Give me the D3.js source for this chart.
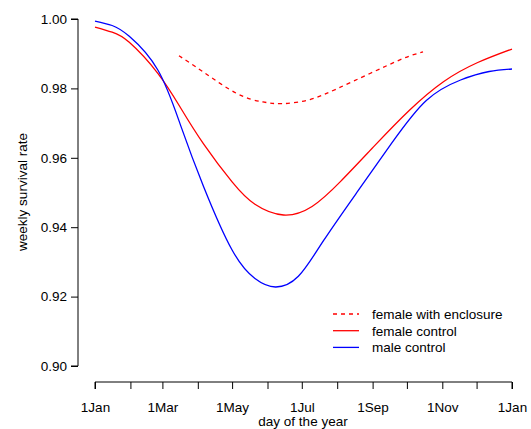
<!DOCTYPE html>
<html>
<head>
<meta charset="utf-8">
<script src="https://cdn.jsdelivr.net/npm/d3@7"></script>
<style>
  body { margin: 0; background: #fff; }
  text { font-family: "Liberation Sans", Arial, Helvetica, sans-serif; }
</style>
</head>
<body>
<script>
var w = 531;
var h = 429;

// day of year (0 = 1 Jan) and weekly survival
var maleDays = [0, 15, 30, 55, 75, 95, 120, 140, 158, 178, 200, 230, 260, 290, 320, 345, 365];
var maleRate = [0.99942, 0.99813, 0.99501, 0.98530, 0.96928, 0.95176, 0.93343, 0.92521, 0.92277, 0.92585, 0.93611, 0.95038, 0.96435, 0.97651, 0.98242, 0.98487, 0.98559];

var femaleDays = [0, 15, 30, 55, 75, 95, 120, 140, 165, 190, 215, 245, 275, 305, 335, 365];
var femaleRate = [0.99769, 0.99622, 0.99329, 0.98435, 0.97435, 0.96401, 0.95305, 0.94660, 0.94352, 0.94597, 0.95320, 0.96357, 0.97363, 0.98193, 0.98746, 0.99135];

var enclDays = [73.5, 94.5, 124.3, 147, 164.6, 188.2, 211.8, 240.7, 269.6, 287.1];
var enclRate = [0.9894, 0.9848, 0.9785, 0.9761, 0.9756, 0.9768, 0.9799, 0.9843, 0.9886, 0.9905];

var monthDays = [0, 31, 59, 90, 120, 151, 181, 212, 243, 273, 304, 334, 365];
var monthLabels = ["1Jan", "", "1Mar", "", "1May", "", "1Jul", "", "1Sep", "", "1Nov", "", "1Jan"];
var yTicks = [0.90, 0.92, 0.94, 0.96, 0.98, 1.00];

var legendNames = ["female with enclosure", "female control", "male control"];
var legendColors = ["#ff0000", "#ff0000", "#0000ff"];
var legendDash = ["4,4", null, null];

var x = d3.scaleLinear().domain([0, 365]).range([95, 512]);
var y = d3.scaleLinear().domain([0.90, 1.00]).range([366, 19]);

var svg = d3.select("body").append("svg").attr("width", w).attr("height", h);

// left axis
var yAxis = svg.append("g")
  .attr("transform", "translate(78,0)")
  .call(d3.axisLeft(y).tickValues(yTicks).tickFormat(d3.format(".2f")).tickSize(7).tickPadding(4));
yAxis.select(".domain").attr("d", "M-7," + y(0.90) + "H0V" + y(1.00) + "H-7");

// bottom axis
var xAxis = svg.append("g")
  .attr("transform", "translate(0,382)")
  .call(d3.axisBottom(x).tickValues(monthDays).tickFormat(function (d, i) { return monthLabels[i]; }).tickSize(7).tickPadding(13));
xAxis.select(".domain").attr("d", "M" + x(0) + ",7V0H" + x(365) + "V7");

svg.selectAll(".tick text").style("font-size", "13.5px").style("fill", "#000");
svg.selectAll(".domain, .tick line").style("stroke", "#000");

svg.append("text")
  .attr("x", 303).attr("y", 426)
  .attr("text-anchor", "middle")
  .style("font-size", "13.5px")
  .text("day of the year");

svg.append("text")
  .attr("transform", "translate(27,192) rotate(-90)")
  .attr("text-anchor", "middle")
  .style("font-size", "13.5px")
  .text("weekly survival rate");

// curves
var line = d3.line()
  .x(function (d) { return x(d[0]); })
  .y(function (d) { return y(d[1]); })
  .curve(d3.curveNatural);

function drawSeries(days, rates, color, dash) {
  svg.append("path")
    .datum(d3.zip(days, rates))
    .attr("d", line)
    .style("fill", "none")
    .style("stroke", color)
    .style("stroke-width", 1.3)
    .style("stroke-dasharray", dash);
}

drawSeries(enclDays, enclRate, "#ff0000", "4,4");
drawSeries(femaleDays, femaleRate, "#ff0000", null);
drawSeries(maleDays, maleRate, "#0000ff", null);

// legend
var legend = svg.append("g").attr("transform", "translate(333,314)");
legendNames.forEach(function (name, i) {
  legend.append("line")
    .attr("x1", 0).attr("x2", 26)
    .attr("y1", i * 16.7).attr("y2", i * 16.7)
    .style("stroke", legendColors[i])
    .style("stroke-width", 1.3)
    .style("stroke-dasharray", legendDash[i]);
  legend.append("text")
    .attr("x", 39).attr("y", i * 16.7 + 5)
    .style("font-size", "13.5px")
    .text(name);
});
</script>
</body>
</html>
